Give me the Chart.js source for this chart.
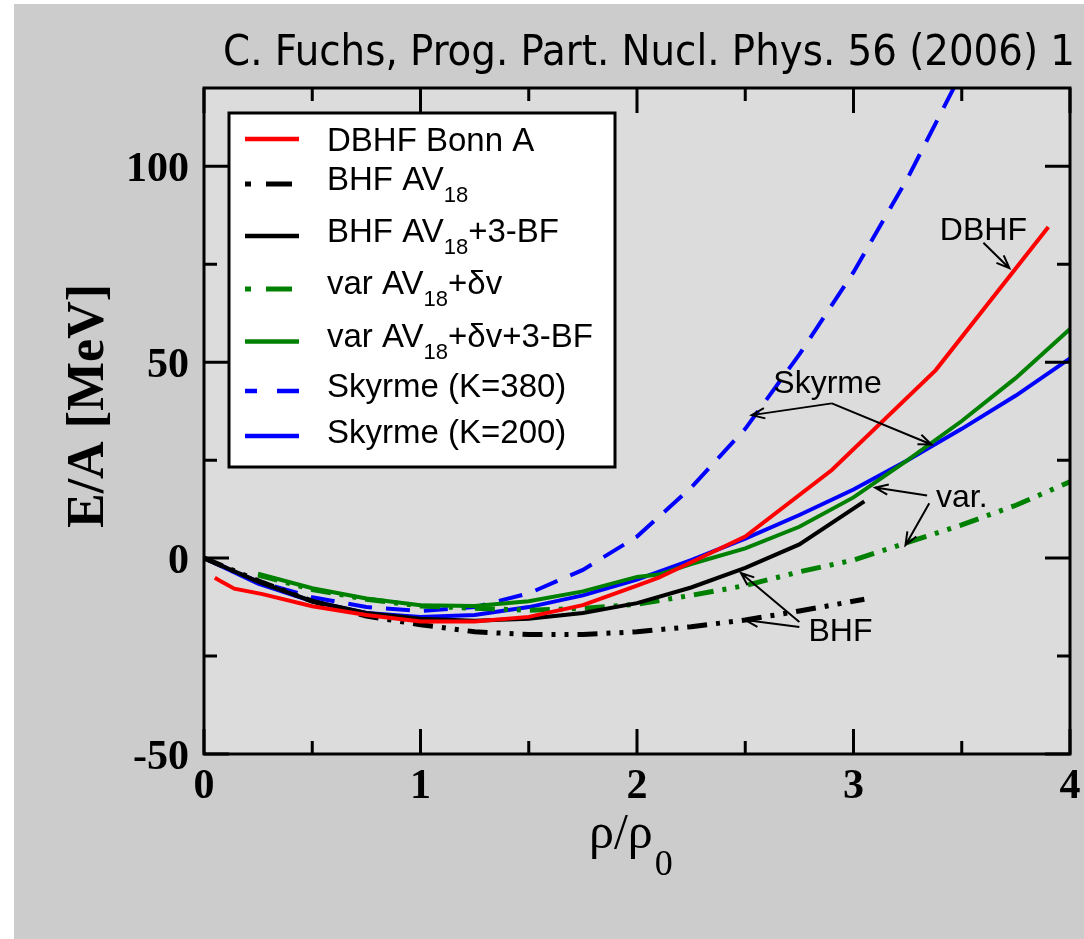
<!DOCTYPE html>
<html>
<head>
<meta charset="utf-8">
<script src="https://cdn.jsdelivr.net/npm/chart.js@4.4.0/dist/chart.umd.min.js"></script>
<style>
  html, body { margin: 0; padding: 0; background: #fff; }
  canvas { display: block; }
</style>
</head>
<body>
<canvas id="eosChart" width="1084" height="939"></canvas>
<script>
// curves: rho/rho0 and E/A [MeV]
const dbhfX = [0.05, 0.08, 0.14, 0.27, 0.5, 0.75, 1.0, 1.25, 1.5, 1.75, 2.0, 2.1, 2.5, 2.9, 3.38, 3.9];
const dbhfY = [-5, -6, -7.8, -9.2, -12.3, -14.5, -16.2, -16.2, -15, -12, -7, -5, 5.5, 22.5, 48, 84.5];

const bhfX = [0, 0.25, 0.5, 0.75, 1.0, 1.25, 1.5, 1.75, 2.0, 2.25, 2.5, 2.75, 3.05];
const bhfY = [0, -5.8, -11, -14.8, -17, -18.8, -19.5, -19.5, -18.8, -17.5, -15.8, -13.5, -10.5];

const bhf3bfX = [0, 0.25, 0.5, 0.75, 1.0, 1.25, 1.5, 1.75, 2.0, 2.25, 2.5, 2.75, 3.05];
const bhf3bfY = [0, -6, -11, -14, -15.5, -16, -15.5, -14, -11.5, -7.5, -2.5, 3.5, 14.5];

const varX = [0.25, 0.5, 0.75, 1.0, 1.25, 1.5, 1.75, 2.0, 2.25, 2.5, 2.75, 3.0, 3.25, 3.5, 3.75, 4.0];
const varY = [-4.3, -8, -10.5, -12.2, -12.8, -13.3, -12.8, -11.8, -9.5, -7, -3.5, -0.5, 4, 8.5, 13.5, 19.5];

const var3bfX = [0.25, 0.5, 0.75, 1.0, 1.25, 1.5, 1.75, 2.0, 2.1, 2.25, 2.5, 2.75, 3.0, 3.25, 3.5, 3.75, 4.0];
const var3bfY = [-4, -7.7, -10.3, -12, -12.2, -11, -8.5, -4.8, -4.2, -1.5, 2.5, 8, 15.5, 25, 35, 46, 58.5];

const sky380X = [0, 0.25, 0.5, 0.75, 1.0, 1.25, 1.5, 1.75, 2.0, 2.25, 2.5, 2.75, 3.0, 3.25, 3.5];
const sky380Y = [0, -6, -10, -12.5, -13.5, -12.5, -9, -3, 5.5, 18, 33, 52, 73, 97, 124];

const sky200X = [0, 0.25, 0.5, 0.75, 1.0, 1.25, 1.5, 1.75, 2.0, 2.25, 2.5, 2.75, 3.0, 3.25, 3.5, 3.75, 4.0];
const sky200Y = [0, -6.5, -11, -14, -15, -14.5, -12.5, -9.5, -5.5, -0.5, 5, 11, 17.5, 25, 33, 41.5, 51];

const xMajor = [0, 1, 2, 3, 4];
const xMinor = [0.5, 1.5, 2.5, 3.5];
const yMajor = [-50, 0, 50, 100];
const yMinor = [-25, 25, 75];

// legend labels, pieces marked 's' are subscripts
const legendLabels = [
  [['DBHF Bonn A']],
  [['BHF AV'], ['18', 's']],
  [['BHF AV'], ['18', 's'], ['+3-BF']],
  [['var AV'], ['18', 's'], ['+\u03b4v']],
  [['var AV'], ['18', 's'], ['+\u03b4v+3-BF']],
  [['Skyrme (K=380)']],
  [['Skyrme (K=200)']]
];

// text notes and arrows in data coordinates
const noteTexts = [
  { text: 'DBHF', x: 3.6, y: 83.5 },
  { text: 'Skyrme', x: 2.88, y: 44.5 },
  { text: 'var.', x: 3.5, y: 15.3 },
  { text: 'BHF', x: 2.94, y: -19 }
];
const noteArrows = [
  [3.6, 80.5, 3.72, 74],
  [2.9, 39.5, 2.53, 36.5],
  [2.9, 39.5, 3.36, 29],
  [3.34, 16, 3.1, 18],
  [3.35, 14, 3.24, 3.3],
  [2.75, -16.3, 2.48, -3.8],
  [2.75, -17.6, 2.5, -15.8]
];

const pts = (xs, ys) => xs.map((x, i) => ({ x: x, y: ys[i] }));
const dashDotDot = [20, 9, 4, 9, 4, 9];

const series = [
  { data: pts(dbhfX, dbhfY), color: '#ff0000', width: 4, dash: [] },
  { data: pts(bhfX, bhfY), color: '#000000', width: 5, dash: dashDotDot },
  { data: pts(bhf3bfX, bhf3bfY), color: '#000000', width: 4, dash: [] },
  { data: pts(varX, varY), color: '#008000', width: 5, dash: dashDotDot },
  { data: pts(var3bfX, var3bfY), color: '#008000', width: 4, dash: [] },
  { data: pts(sky380X, sky380Y), color: '#0000ff', width: 4, dash: [24, 14] },
  { data: pts(sky200X, sky200Y), color: '#0000ff', width: 4, dash: [] }
];
const legendDash = [[], [6, 15, 26, 100], [], [6, 15, 26, 100], [], [12, 20, 22, 100], []];

function arrow(ctx, x1, y1, x2, y2) {
  const a = Math.atan2(y2 - y1, x2 - x1);
  const h = 14, s = 0.38;
  ctx.beginPath();
  ctx.moveTo(x1, y1);
  ctx.lineTo(x2, y2);
  ctx.moveTo(x2 - h * Math.cos(a - s), y2 - h * Math.sin(a - s));
  ctx.lineTo(x2, y2);
  ctx.lineTo(x2 - h * Math.cos(a + s), y2 - h * Math.sin(a + s));
  ctx.stroke();
}

const decor = {
  id: 'decor',
  beforeDraw(chart) {
    const { ctx, chartArea: a } = chart;
    ctx.save();
    ctx.fillStyle = '#ffffff';
    ctx.fillRect(0, 0, chart.width, chart.height);
    ctx.fillStyle = '#cccccc';
    ctx.fillRect(14, 4, chart.width - 14, chart.height - 4);
    ctx.fillStyle = '#dcdcdc';
    ctx.fillRect(a.left, a.top, a.right - a.left, a.bottom - a.top);
    ctx.restore();
  },
  afterDatasetsDraw(chart) {
    const { ctx, chartArea: a, scales: { x, y } } = chart;
    ctx.save();

    // frame and inward ticks
    ctx.strokeStyle = '#000';
    ctx.lineWidth = 3;
    ctx.strokeRect(a.left, a.top, a.right - a.left, a.bottom - a.top);
    const tick = (vals, len) => {
      vals.forEach(v => {
        const px = x.getPixelForValue(v);
        ctx.beginPath();
        ctx.moveTo(px, a.bottom); ctx.lineTo(px, a.bottom - len);
        ctx.moveTo(px, a.top); ctx.lineTo(px, a.top + len);
        ctx.stroke();
      });
    };
    const ytick = (vals, len) => {
      vals.forEach(v => {
        const py = y.getPixelForValue(v);
        ctx.beginPath();
        ctx.moveTo(a.left, py); ctx.lineTo(a.left + len, py);
        ctx.moveTo(a.right, py); ctx.lineTo(a.right - len, py);
        ctx.stroke();
      });
    };
    tick(xMajor, 25); tick(xMinor, 13);
    ytick(yMajor, 25); ytick(yMinor, 13);

    // tick labels
    ctx.fillStyle = '#000';
    ctx.font = 'bold 42px "Liberation Serif", serif';
    ctx.textAlign = 'center';
    ctx.textBaseline = 'alphabetic';
    xMajor.forEach(v => ctx.fillText(String(v), x.getPixelForValue(v), 798));
    ctx.textAlign = 'right';
    yMajor.forEach(v => ctx.fillText(String(v), 189, y.getPixelForValue(v) + 15));

    // axis titles
    ctx.save();
    ctx.translate(103, 406);
    ctx.rotate(-Math.PI / 2);
    ctx.textAlign = 'center';
    ctx.font = 'bold 52px "Liberation Serif", serif';
    ctx.fillText('E/A [MeV]', 0, 0);
    ctx.restore();

    ctx.textAlign = 'left';
    ctx.font = '50px "Liberation Serif", serif';
    const rw = ctx.measureText('\u03c1/\u03c1').width;
    const cx = (a.left + a.right) / 2;
    ctx.fillText('\u03c1/\u03c1', cx - 48, 848);
    ctx.font = '36px "Liberation Serif", serif';
    ctx.fillText('0', cx - 48 + rw + 2, 875);

    // top reference line
    ctx.textAlign = 'right';
    ctx.font = '36px "DejaVu Sans Condensed", "DejaVu Sans", sans-serif';
    const tt = 'C. Fuchs, Prog. Part. Nucl. Phys. 56 (2006) 1';
    const tw = ctx.measureText(tt).width;
    const fs = 36 * 852 / tw;
    ctx.font = fs.toFixed(1) + 'px "DejaVu Sans Condensed", "DejaVu Sans", sans-serif';
    ctx.fillText(tt, 1075, 65);

    // notes with arrows
    ctx.font = '32px "Liberation Sans", Arial, sans-serif';
    ctx.textAlign = 'center';
    ctx.textBaseline = 'middle';
    noteTexts.forEach(n => ctx.fillText(n.text, x.getPixelForValue(n.x), y.getPixelForValue(n.y)));
    ctx.lineWidth = 2;
    noteArrows.forEach(r => arrow(ctx,
      x.getPixelForValue(r[0]), y.getPixelForValue(r[1]),
      x.getPixelForValue(r[2]), y.getPixelForValue(r[3])));

    // legend box
    ctx.fillStyle = '#fff';
    ctx.fillRect(229, 113, 386, 354);
    ctx.lineWidth = 3;
    ctx.strokeStyle = '#000';
    ctx.strokeRect(229, 113, 386, 354);
    const rowY = [139, 184, 236, 289, 341.5, 391, 436];
    const baseY = [151, 190, 242, 294, 347, 397, 443];
    ctx.textAlign = 'left';
    ctx.textBaseline = 'alphabetic';
    legendLabels.forEach((parts, i) => {
      const s = series[i];
      ctx.strokeStyle = s.color;
      ctx.lineWidth = s.width === 5 ? 5 : 4.5;
      ctx.setLineDash(legendDash[i]);
      ctx.beginPath();
      ctx.moveTo(245, rowY[i]);
      ctx.lineTo(299, rowY[i]);
      ctx.stroke();
      ctx.setLineDash([]);
      ctx.fillStyle = '#000';
      let tx = 327;
      parts.forEach(p => {
        if (p[1] === 's') {
          ctx.font = '22px "Liberation Sans", Arial, sans-serif';
          ctx.fillText(p[0], tx, baseY[i] + 12);
        } else {
          ctx.font = '33px "Liberation Sans", Arial, sans-serif';
          ctx.fillText(p[0], tx, baseY[i]);
        }
        tx += ctx.measureText(p[0]).width;
      });
    });
    ctx.restore();
  }
};

new Chart(document.getElementById('eosChart').getContext('2d'), {
  type: 'scatter',
  data: {
    datasets: series.map(s => ({
      data: s.data,
      showLine: true,
      borderColor: s.color,
      backgroundColor: s.color,
      borderWidth: s.width,
      borderDash: s.dash,
      borderCapStyle: 'butt',
      pointRadius: 0,
      tension: 0,
      fill: false
    }))
  },
  options: {
    responsive: false,
    animation: false,
    layout: { padding: { left: 204, right: 14, top: 88, bottom: 185 } },
    scales: {
      x: { type: 'linear', min: 0, max: 4, display: false },
      y: { type: 'linear', min: -50, max: 120, display: false }
    },
    plugins: {
      legend: { display: false },
      tooltip: { enabled: false }
    }
  },
  plugins: [decor]
});
</script>
</body>
</html>
